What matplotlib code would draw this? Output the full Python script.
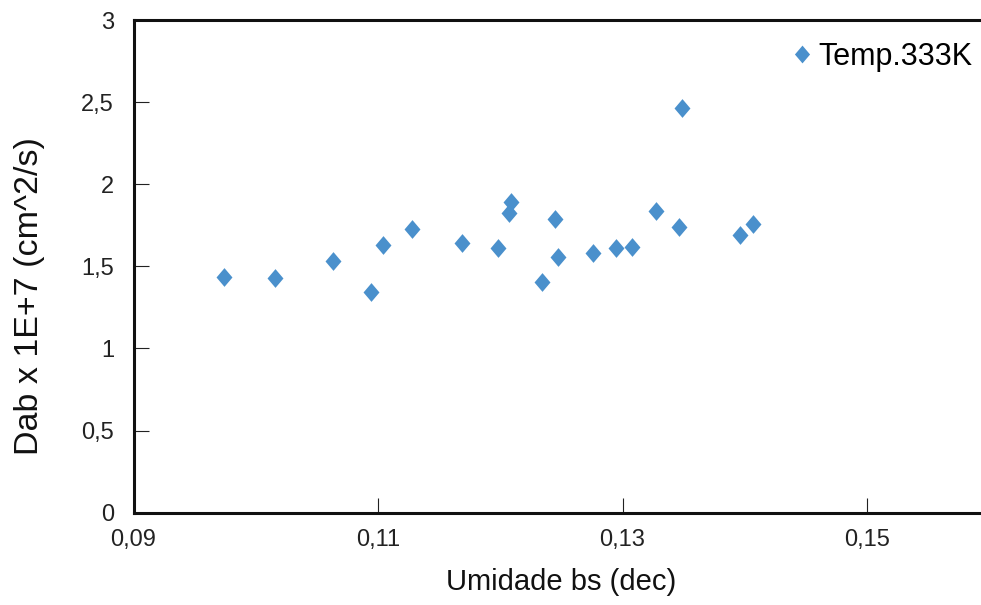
import matplotlib
matplotlib.use("Agg")
import matplotlib.pyplot as plt
from matplotlib.ticker import FuncFormatter, FixedLocator

plt.rcParams['font.family'] = ['Liberation Sans', 'DejaVu Sans']

umidade = [0.0974, 0.1016, 0.1063, 0.1094, 0.1104, 0.1128, 0.1169, 0.1198,
           0.1209, 0.1207, 0.1234, 0.1245, 0.1247, 0.1276, 0.1295, 0.1308,
           0.1327, 0.1346, 0.1349, 0.1396, 0.1407]
dab = [1.434, 1.429, 1.533, 1.342, 1.630, 1.730, 1.643, 1.610,
       1.894, 1.823, 1.403, 1.787, 1.555, 1.580, 1.610, 1.620,
       1.837, 1.742, 2.463, 1.691, 1.758]
x_ticks = [0.09, 0.11, 0.13, 0.15]
y_ticks = [0, 0.5, 1, 1.5, 2, 2.5, 3]
series_label = "Temp.333K"
xlabel = "Umidade bs (dec)"
ylabel = "Dab x 1E+7 (cm^2/s)"

fig = plt.figure(figsize=(9.81, 6.05), dpi=100)
ax = fig.add_axes([0.1361, 0.1526, 0.8723, 0.8143])

diamond = [(0, 1), (0.85, 0), (0, -1), (-0.85, 0), (0, 1)]
ax.plot(umidade, dab, linestyle='none', marker=diamond, markersize=13.5,
        color='#4A90CC', markeredgewidth=0, label=series_label)

ax.set_xlim(0.09, 0.16)
ax.set_ylim(0, 3)
ax.xaxis.set_major_locator(FixedLocator(x_ticks))
ax.yaxis.set_major_locator(FixedLocator(y_ticks))
ax.xaxis.set_major_formatter(FuncFormatter(lambda v, p: f"{v:.2f}".replace('.', ',')))
ax.yaxis.set_major_formatter(FuncFormatter(lambda v, p: f"{v:g}".replace('.', ',')))

ax.tick_params(direction='in', length=11, width=0.8, labelsize=17, colors='#222222')
ax.tick_params(axis='y', pad=14)
ax.tick_params(axis='x', pad=12)
for s in ax.spines.values():
    s.set_linewidth(2.2)
    s.set_color('#111111')

ax.set_xlabel(xlabel, fontsize=21, labelpad=12, color='#111111')
ax.set_ylabel(ylabel, fontsize=24.5, color='#111111')
ax.yaxis.set_label_coords(-0.104, 0.44)

ax.legend(loc='center left', bbox_to_anchor=(788 / 981, 1 - 57 / 605),
          bbox_transform=fig.transFigure, frameon=False, fontsize=22,
          handletextpad=0.1, borderpad=0, borderaxespad=0, handlelength=0.9,
          markerscale=0.95)

fig.savefig("out.png", dpi=100)
